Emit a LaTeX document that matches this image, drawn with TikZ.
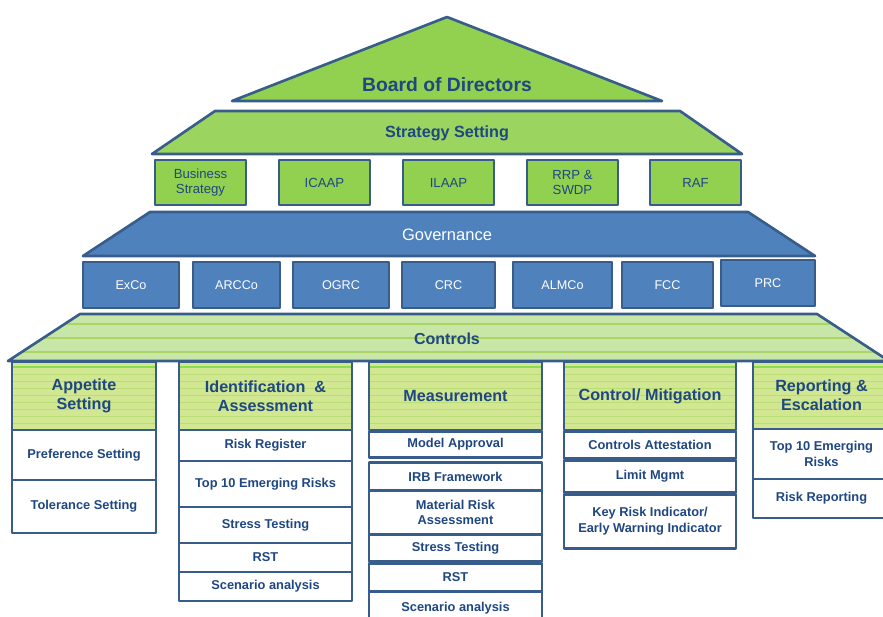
\documentclass[tikz,border=0pt]{standalone}
\usepackage{fontspec}
\setmainfont{Liberation Sans}
\usetikzlibrary{positioning}

\definecolor{edgeblue}{RGB}{56,93,138}
\definecolor{inkblue}{RGB}{31,71,130}
\definecolor{leaf}{RGB}{146,208,80}
\definecolor{pale}{RGB}{210,231,145}
\definecolor{mint}{RGB}{200,230,168}
\definecolor{stripe}{RGB}{172,214,100}
\definecolor{govblue}{RGB}{79,129,189}

\begin{document}
\begin{tikzpicture}[x=0.02cm,y=-0.02cm,line join=round]
            \tikzstyle{box}=[draw=edgeblue,line width=1.5pt,outer sep=0pt,align=center,inner sep=1pt]
            \tikzstyle{strat}=[box,fill=leaf,text=inkblue,font=\fontsize{7.5}{8.5}\selectfont,minimum width=1.82cm,minimum height=0.9cm]
            \tikzstyle{comm}=[box,fill=govblue,text=white,font=\fontsize{7.2}{8.5}\selectfont,minimum height=0.92cm]
            \tikzstyle{head}=[box,fill=pale,text=inkblue,font=\bfseries\fontsize{9.2}{10.8}\selectfont,minimum height=1.36cm,
                path picture={
                    \draw[stripe!80!green,line width=1.4pt] ([yshift=-0.1cm]path picture bounding box.north west) -- ([yshift=-0.1cm]path picture bounding box.north east);
                    \foreach \k in {1,...,8}
                        \draw[stripe!60!pale,line width=0.3pt] ([yshift=-0.1cm-\k*0.14cm]path picture bounding box.north west) -- ([yshift=-0.1cm-\k*0.14cm]path picture bounding box.north east);
                }]
            \tikzstyle{item}=[box,fill=white,text=inkblue,font=\bfseries\fontsize{7.3}{9}\selectfont]
            \tikzstyle{appcol}=[minimum width=2.88cm]
            \tikzstyle{idcol}=[minimum width=3.46cm]
            \tikzstyle{meascol}=[minimum width=3.46cm]
            \tikzstyle{mitcol}=[minimum width=3.44cm]
            \tikzstyle{repcol}=[minimum width=2.74cm]

            \useasboundingbox (0,0) rectangle (883,617);
            \clip (0,0) rectangle (883,617);

            % roof and the three bands
            \draw[fill=leaf,draw=edgeblue,line width=1.5pt] (232,101) -- (447,17) -- (662,101) -- cycle;
            \draw[fill=leaf!92!white,draw=edgeblue,line width=1.5pt] (215,111) -- (680,111) -- (742,154) -- (152,154) -- cycle;
            \draw[fill=govblue,draw=edgeblue,line width=1.5pt] (150,212) -- (748,212) -- (815,256) -- (83,256) -- cycle;
            \draw[fill=mint,draw=edgeblue,line width=1.5pt,
                path picture={
                    \foreach \dy in {0.2,0.48,0.76}
                        \draw[stripe,line width=0.8pt] ([yshift=-\dy cm]path picture bounding box.north west) -- ([yshift=-\dy cm]path picture bounding box.north east);
                }] (80,314) -- (817,314) -- (889,361) -- (8,361) -- cycle;

            \node[text=inkblue,font=\bfseries\fontsize{11}{13}\selectfont] (board) at (447,85) {Board of Directors};
            \node[text=inkblue,font=\bfseries\fontsize{9.2}{11}\selectfont] (strategy) at (447,133) {Strategy Setting};
            \node[text=white,font=\fontsize{9.4}{11}\selectfont] (gov) at (447,235) {Governance};
            \node[text=inkblue,font=\bfseries\fontsize{9.1}{11}\selectfont] (controls) at (447,339) {Controls};

            % strategy documents
            \node[strat] (bus)  at (200.5,182.5) {Business\\Strategy};
            \node[strat] (icaap) at (324.5,182.5) {ICAAP};
            \node[strat] (ilaap) at (448.5,182.5) {ILAAP};
            \node[strat] (rrp)  at (572.5,182.5) {RRP \&\\SWDP};
            \node[strat] (raf)  at (695.5,182.5) {RAF};

            % committees
            \node[comm,minimum width=1.92cm] (exco)  at (131,285)   {ExCo};
            \node[comm,minimum width=1.74cm] (arcco) at (236.5,285) {ARCCo};
            \node[comm,minimum width=1.92cm] (ogrc)  at (341,285)   {OGRC};
            \node[comm,minimum width=1.86cm] (crc)   at (448.5,285) {CRC};
            \node[comm,minimum width=1.98cm] (almco) at (562.5,285) {ALMCo};
            \node[comm,minimum width=1.82cm] (fcc)   at (667.5,285) {FCC};
            \node[comm,minimum width=1.88cm] (prc)   at (768,283)   {PRC};

            % appetite setting
            \node[head,appcol] (apt) at (84,396) {Appetite\\Setting};
            \node[item,appcol,minimum height=1.0cm]  (pref) [below=0pt of apt]  {Preference Setting};
            \node[item,appcol,minimum height=1.06cm] (tol)  [below=0pt of pref] {Tolerance Setting};

            % identification & assessment
            \node[head,idcol] (ident) at (265.5,396) {Identification \ \&\\Assessment};
            \node[item,idcol,minimum height=0.62cm] (reg)    [below=0pt of ident]  {Risk Register};
            \node[item,idcol,minimum height=0.92cm] (top)    [below=0pt of reg]    {Top 10 Emerging Risks};
            \node[item,idcol,minimum height=0.72cm] (stress) [below=0pt of top]    {Stress Testing};
            \node[item,idcol,minimum height=0.58cm] (rst)    [below=0pt of stress] {RST};
            \node[item,idcol,minimum height=0.58cm] (scen)   [below=0pt of rst]    {Scenario analysis};

            % measurement
            \node[head,meascol] (meas) at (455.5,396) {Measurement};
            \node[item,meascol,minimum height=0.52cm] (model)   [below=0.03cm of meas]   {Model Approval};
            \node[item,meascol,minimum height=0.56cm] (irb)     [below=0.1cm of model]   {IRB Framework};
            \node[item,meascol,minimum height=0.88cm] (mra)     [below=0pt of irb]       {Material Risk\\Assessment};
            \node[item,meascol,minimum height=0.54cm] (mstress) [below=0pt of mra]       {Stress Testing};
            \node[item,meascol,minimum height=0.56cm] (mrst)    [below=0.04cm of mstress] {RST};
            \node[item,meascol,minimum height=0.66cm] (mscen)   [below=0pt of mrst]      {Scenario analysis};

            % control / mitigation
            \node[head,mitcol] (mitig) at (650,396) {Control/ Mitigation};
            \node[item,mitcol,minimum height=0.54cm] (attest) [below=0.03cm of mitig]  {Controls Attestation};
            \node[item,mitcol,minimum height=0.64cm] (limit)  [below=0.04cm of attest] {Limit Mgmt};
            \node[item,mitcol,minimum height=1.08cm] (kri)    [below=0.04cm of limit]  {Key Risk Indicator/\\Early Warning Indicator};

            % reporting & escalation
            \node[head,repcol,minimum height=1.34cm] (esc) at (821.5,395.5) {Reporting \&\\Escalation};
            \node[item,repcol,minimum height=1.0cm]  (rtop) [below=0pt of esc]  {Top 10 Emerging\\Risks};
            \node[item,repcol,minimum height=0.78cm] (rrep) [below=0pt of rtop] {Risk Reporting};
        \end{tikzpicture}
\end{document}
